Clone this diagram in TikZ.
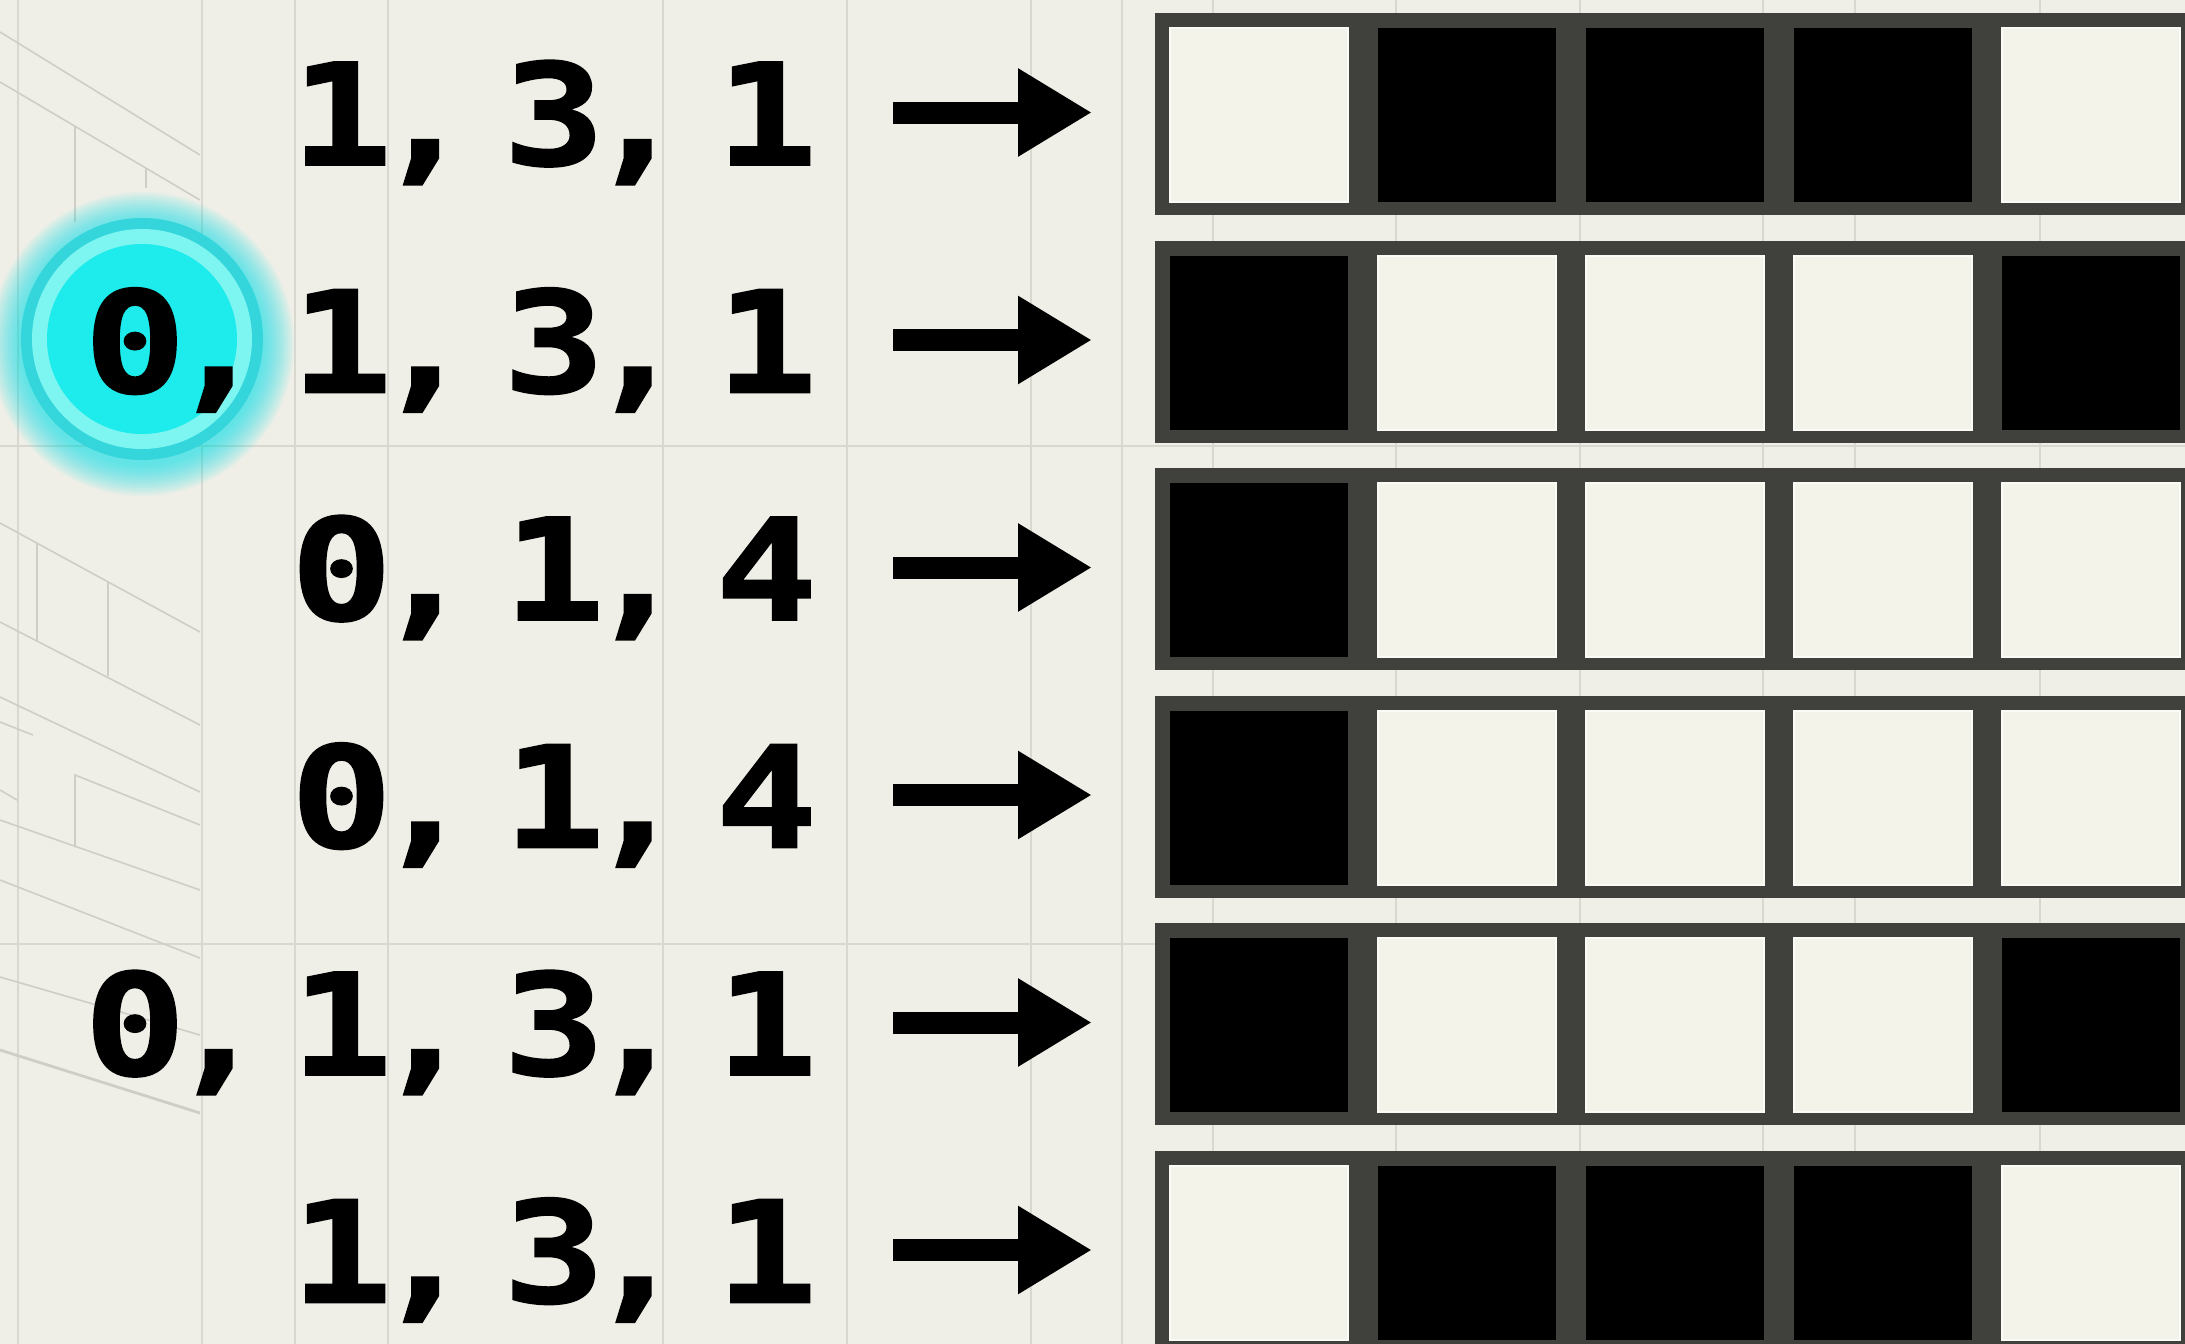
\documentclass[tikz,border=0pt]{standalone}
\usepackage{fontspec}
\newfontfamily\digfont{DejaVu Sans Mono}[BoldFeatures={FakeBold=1.2}]
\usetikzlibrary{arrows.meta}
\definecolor{bg}{RGB}{239,239,232}
\definecolor{gridc}{RGB}{216,216,208}
\definecolor{sketchc}{RGB}{206,206,198}
\definecolor{framegray}{RGB}{64,64,60}
\definecolor{cellw}{RGB}{243,243,234}
\definecolor{cyanout}{RGB}{52,214,220}
\definecolor{cyanring}{RGB}{125,245,240}
\definecolor{cyanin}{RGB}{30,235,235}
\definecolor{cyanglow}{RGB}{0,228,230}
\newcommand{\dg}[1]{\makebox[50pt][c]{\scalebox{1.2}[1]{#1}}}
\newcommand{\cmm}{\makebox[33.5pt][c]{\scalebox{1.2}[1]{,}}}
\newcommand{\gp}{\hspace{22.75pt}}
\tikzset{
  txt/.style={font=\digfont\bfseries\fontsize{70.6pt}{80pt}\selectfont, inner sep=0pt, outer sep=0pt, text=black, anchor=base west},
  arr/.style={line width=11pt, draw=black, -{Triangle[length=37pt,width=41.5pt]}},
  gridl/.style={draw=gridc, line width=1pt},
  sketch/.style={draw=sketchc, line width=0.8pt},
  framebox/.style={fill=framegray},
  cellblack/.style={fill=black},
  cellwhite/.style={fill=cellw, draw=white!55!cellw, line width=1pt}
}
\begin{document}
\begin{tikzpicture}[x=0.5pt,y=-0.5pt]
\fill[bg] (0,0) rectangle (2185,1344);
\useasboundingbox (0,0) rectangle (2185,1344);
% faint background grid
\foreach \gx in {18,202,295,388,663,847,1031,1122,1213,1396,1580,1763,1855,2040}
  \draw[gridl] (\gx,0) -- (\gx,1344);
\foreach \gy in {446,944}
  \draw[gridl] (0,\gy) -- (2185,\gy);
% left perspective sketch
\draw[sketch] (0,32) -- (200,155);
\draw[sketch] (0,82) -- (200,200);
\draw[sketch] (75,126) -- (75,222);
\draw[sketch] (146,168) -- (146,188);
\draw[sketch] (0,523) -- (200,632);
\draw[sketch] (37,543) -- (37,641);
\draw[sketch] (0,622) -- (200,725);
\draw[sketch] (108,582) -- (108,676);
\draw[sketch] (0,697) -- (200,792);
\draw[sketch] (0,722) -- (33,735);
\draw[sketch] (75,847) -- (75,775) -- (200,825);
\draw[sketch] (0,790) -- (17,800);
\draw[sketch] (0,820) -- (200,890);
\draw[sketch] (0,880) -- (200,958);
\draw[sketch] (0,977) -- (200,1035);
\draw[sketch, line width=1.4pt] (0,1050) -- (200,1113);
% rows of cells
\foreach \r/\pat in {0/{1,0,0,0,1}, 1/{0,1,1,1,0}, 2/{0,1,1,1,1}, 3/{0,1,1,1,1}, 4/{0,1,1,1,0}, 5/{1,0,0,0,1}}{
  \pgfmathsetmacro{\yf}{13+227.5*\r}
  \fill[framebox] (1155,\yf) rectangle (2210,\yf+202);
  \foreach \c [count=\j from 0] in \pat {
    \pgfmathsetmacro{\xc}{1170+208*\j}
    \ifnum\c=1
      \filldraw[cellwhite] (\xc,\yf+15) rectangle (\xc+178,\yf+189);
    \else
      \fill[cellblack] (\xc,\yf+15) rectangle (\xc+178,\yf+189);
    \fi
  }
}
% highlighted circle
\foreach \rr in {61,62,...,76}
  \fill[cyanglow, fill opacity=0.05] (142,344) circle[radius=\rr pt];
\fill[cyanout] (142,339) circle[radius=60.5pt];
\fill[cyanring] (142,339) circle[radius=55pt];
\fill[cyanin] (142,339) circle[radius=47.5pt];
% texts
\node[txt] (t1) at (291.5,165) {\dg{1}\cmm\gp\dg{3}\cmm\gp\dg{1}};
\node[txt] (z2) at (85,392.5) {\dg{0}\cmm};
\node[txt] (t2) at (291.5,392.5) {\dg{1}\cmm\gp\dg{3}\cmm\gp\dg{1}};
\node[txt] (t3) at (291.5,620) {\dg{0}\cmm\gp\dg{1}\cmm\gp\dg{4}};
\node[txt] (t4) at (291.5,847.5) {\dg{0}\cmm\gp\dg{1}\cmm\gp\dg{4}};
\node[txt] (z5) at (85,1075) {\dg{0}\cmm};
\node[txt] (t5) at (291.5,1075) {\dg{1}\cmm\gp\dg{3}\cmm\gp\dg{1}};
\node[txt] (t6) at (291.5,1302.5) {\dg{1}\cmm\gp\dg{3}\cmm\gp\dg{1}};
% arrows
\foreach \r in {0,...,5}{
  \pgfmathsetmacro{\ya}{112.5+227.5*\r}
  \coordinate (as\r) at (893,\ya);
  \coordinate (ae\r) at (1092,\ya);
  \draw[arr] (as\r) -- (ae\r);
}
\end{tikzpicture}
\end{document}
